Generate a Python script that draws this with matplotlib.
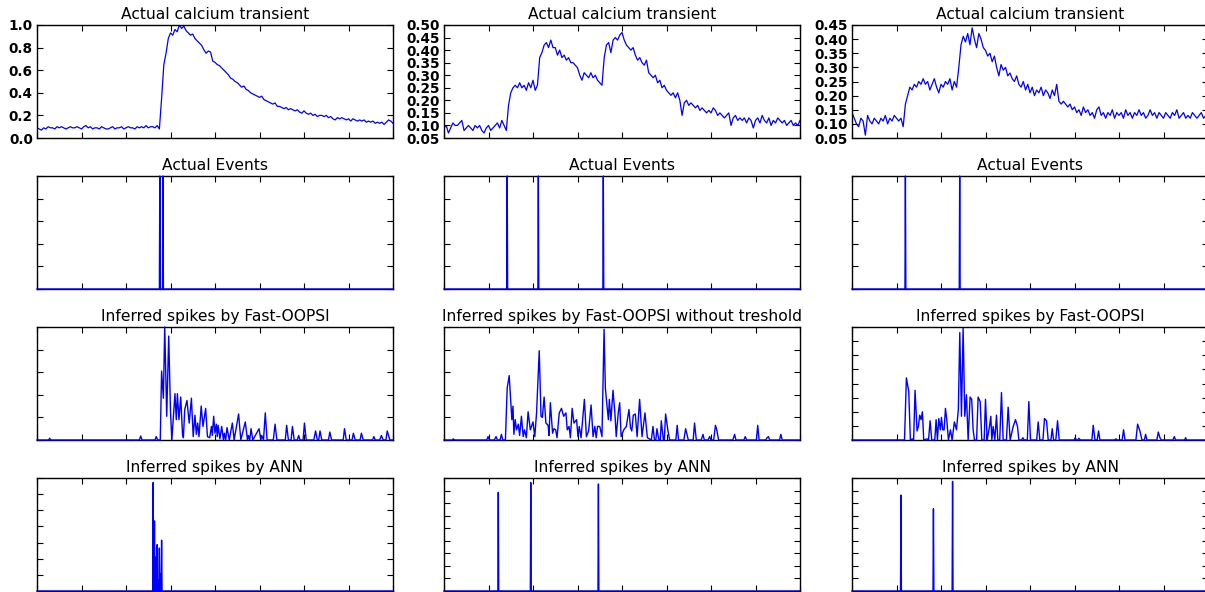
import numpy as np
import matplotlib
matplotlib.use("Agg")
import matplotlib.pyplot as plt

# --- data (time axis 0..800, 8 tick intervals) ---

# calcium traces, one sample every 5 time units
calcium_1 = [0.09, 0.08, 0.07, 0.09, 0.08, 0.10, 0.09, 0.09, 0.08, 0.10, 0.09, 0.10, 0.09, 0.08, 0.09, 0.10,
             0.09, 0.09, 0.10, 0.09, 0.08, 0.10, 0.11, 0.09, 0.10, 0.08, 0.09, 0.09, 0.08, 0.10, 0.09, 0.08,
             0.08, 0.09, 0.10, 0.08, 0.09, 0.09, 0.10, 0.08, 0.09, 0.10, 0.09, 0.09, 0.08, 0.10, 0.09, 0.10,
             0.09, 0.11, 0.09, 0.10, 0.10, 0.09, 0.11, 0.08,
             0.35, 0.65, 0.75, 0.88, 0.93, 0.91, 0.96, 0.94, 1.00, 0.97, 0.99, 0.95, 0.93, 0.91, 0.92, 0.88,
             0.86, 0.84, 0.82, 0.78, 0.75, 0.77, 0.76, 0.68, 0.67, 0.65, 0.64, 0.62, 0.60, 0.58, 0.56, 0.53,
             0.52, 0.50, 0.49, 0.47, 0.45, 0.46, 0.43, 0.42, 0.40, 0.39, 0.38, 0.37, 0.36, 0.37, 0.34, 0.33,
             0.32, 0.31, 0.30, 0.31, 0.28, 0.28, 0.27, 0.26, 0.27, 0.25, 0.26, 0.25, 0.24, 0.25, 0.23, 0.22,
             0.24, 0.22, 0.21, 0.22, 0.20, 0.21, 0.19, 0.20, 0.20, 0.19, 0.20, 0.18, 0.19, 0.17, 0.16, 0.18,
             0.17, 0.18, 0.17, 0.16, 0.17, 0.15, 0.17, 0.16, 0.15, 0.16, 0.15, 0.16, 0.14, 0.15, 0.14, 0.15,
             0.13, 0.14, 0.13, 0.14, 0.12, 0.14, 0.16, 0.15, 0.13]

calcium_2 = [0.09, 0.10, 0.07, 0.09, 0.11, 0.10, 0.10, 0.11, 0.12, 0.08, 0.09, 0.10, 0.09, 0.08, 0.10, 0.09,
             0.10, 0.08, 0.07, 0.09, 0.10, 0.08, 0.09, 0.10, 0.11, 0.09, 0.12, 0.10,
             0.08, 0.18, 0.23, 0.25, 0.26, 0.25, 0.27, 0.25, 0.26, 0.24, 0.27, 0.25, 0.28, 0.24, 0.26, 0.37,
             0.39, 0.42, 0.43, 0.41, 0.44, 0.41, 0.41, 0.38, 0.40, 0.37, 0.38, 0.36, 0.37, 0.35, 0.35, 0.34,
             0.33, 0.30, 0.28, 0.31, 0.30, 0.29, 0.31, 0.29, 0.30, 0.28, 0.27, 0.26, 0.37, 0.42, 0.43, 0.39,
             0.44, 0.45, 0.44, 0.46, 0.47, 0.44, 0.42, 0.41, 0.40, 0.41, 0.38, 0.36, 0.37, 0.35, 0.34, 0.36,
             0.31, 0.30, 0.29, 0.30, 0.27, 0.28, 0.25, 0.26, 0.24, 0.23, 0.22, 0.23, 0.21, 0.23, 0.20, 0.14,
             0.19, 0.20, 0.18, 0.19, 0.18, 0.17, 0.18, 0.16, 0.17, 0.16, 0.15, 0.16, 0.15, 0.17, 0.16, 0.14,
             0.15, 0.14, 0.13, 0.14, 0.15, 0.10, 0.13, 0.14, 0.12, 0.13, 0.12, 0.13, 0.11, 0.13, 0.12, 0.09,
             0.12, 0.13, 0.11, 0.14, 0.12, 0.11, 0.13, 0.10, 0.12, 0.11, 0.13, 0.12, 0.11, 0.12, 0.10, 0.11,
             0.12, 0.10, 0.11, 0.10, 0.12]

calcium_3 = [0.14, 0.12, 0.10, 0.09, 0.12, 0.11, 0.06, 0.13, 0.11, 0.10, 0.12, 0.11, 0.10, 0.12, 0.11, 0.13,
             0.10, 0.12, 0.11, 0.13, 0.12, 0.11, 0.12,
             0.09, 0.17, 0.20, 0.23, 0.22, 0.24, 0.23, 0.25, 0.24, 0.26, 0.24, 0.25, 0.22, 0.24, 0.26, 0.23,
             0.21, 0.24, 0.23, 0.25, 0.24, 0.26, 0.22, 0.25, 0.23, 0.30, 0.38, 0.41, 0.39, 0.42, 0.38, 0.44,
             0.40, 0.37, 0.42, 0.40, 0.37, 0.36, 0.34, 0.35, 0.32, 0.34, 0.30, 0.27, 0.31, 0.29, 0.30, 0.27,
             0.28, 0.26, 0.25, 0.27, 0.24, 0.23, 0.25, 0.22, 0.24, 0.21, 0.23, 0.20, 0.22, 0.21, 0.23, 0.20,
             0.22, 0.21, 0.19, 0.22, 0.20, 0.24, 0.18, 0.17, 0.18, 0.17, 0.16, 0.17, 0.15, 0.16, 0.14, 0.15,
             0.13, 0.16, 0.14, 0.15, 0.13, 0.14, 0.12, 0.15, 0.16, 0.13, 0.14, 0.12, 0.14, 0.13, 0.15, 0.12,
             0.14, 0.13, 0.14, 0.12, 0.15, 0.13, 0.14, 0.12, 0.14, 0.13, 0.15, 0.13, 0.14, 0.12, 0.13, 0.15,
             0.13, 0.14, 0.12, 0.14, 0.13, 0.12, 0.14, 0.13, 0.12, 0.14, 0.13, 0.15, 0.12, 0.13, 0.14, 0.12,
             0.13, 0.12, 0.14, 0.13, 0.12, 0.13, 0.14, 0.12, 0.13, 0.11]

# actual events (time, height)
events_t = [[275.6, 283.3], [142.2, 211.9, 358.0], [119.8, 242.0]]
events_h = [[1.0, 1.0], [1.0, 1.0, 1.0], [1.0, 1.0]]

# ANN output (time, height as fraction of axis)
ann_t = [[260.7, 262.5, 264.4, 266.5, 268.5, 270.5, 272.5, 275.0, 277.0, 279.5],
         [122.0, 194.8, 346.8],
         [110.0, 182.7, 226.3]]
ann_h = [[0.96, 0.05, 0.62, 0.30, 0.05, 0.41, 0.10, 0.38, 0.15, 0.45],
         [0.873, 0.96, 0.947],
         [0.849, 0.728, 0.97]]

# Fast-OOPSI traces as (time, value)
oopsi_1 = [(0, 0), (26, 0), (28.5, 0.015), (31, 0), (230, 0), (233, 0.035), (236, 0), (265, 0), (268, 0.03),
           (271, 0), (277, 0), (280, 0.61), (284, 0.37), (287, 1.0), (291.5, 0.21), (296, 0.92), (300, 0.25),
           (303, 0), (310, 0.41), (313, 0.18), (315.5, 0.41), (319, 0.18), (323, 0.38), (327, 0.05),
           (329, 0.02), (332, 0.27), (337, 0.35), (342, 0.15), (347, 0.37), (351, 0.03), (355, 0.22),
           (358, 0.05), (361, 0.15), (364, 0.03), (369, 0.30), (373, 0.12), (379, 0.28), (383, 0.03),
           (388, 0.02), (392, 0.12), (394, 0.04), (397, 0.21), (400, 0.06), (403, 0.14), (405, 0.03),
           (407, 0.13), (411, 0.01), (415, 0.12), (419, 0), (421, 0.06), (424, 0), (427, 0.11), (432, 0),
           (439, 0.15), (443, 0), (453, 0.23), (458, 0), (468, 0.16), (473, 0), (475, 0.04), (478, 0),
           (481, 0.10), (485, 0), (499, 0.10), (503, 0), (505, 0.04), (509, 0), (513, 0.24), (517, 0),
           (531, 0), (535, 0.14), (539, 0), (558, 0), (561, 0.13), (565, 0), (571, 0), (574, 0.12), (578, 0),
           (585, 0), (588, 0.04), (591, 0), (598, 0), (601, 0.15), (605, 0), (622, 0), (626, 0.08), (630, 0),
           (633, 0), (636, 0.08), (640, 0), (655, 0), (658, 0.07), (662, 0), (688, 0), (691, 0.10), (695, 0),
           (708, 0), (711, 0.06), (715, 0), (726, 0), (729, 0.06), (733, 0), (754, 0), (757, 0.03), (760, 0),
           (770, 0), (774, 0.04), (778, 0), (784, 0), (787, 0.08), (790, 0.04), (793, 0), (800, 0)]

oopsi_2 = [(0, 0), (18, 0), (21, 0.01), (24, 0), (96, 0), (99, 0.03), (102, 0), (113, 0), (117, 0.03), (120, 0),
           (126, 0), (129, 0.05), (132, 0), (138, 0), (142, 0.46), (146.5, 0.57), (149.5, 0.38), (152.5, 0.18),
           (155, 0.30), (157, 0.05), (160, 0.18), (163, 0.09), (167, 0.14), (170, 0.04), (174, 0.21),
           (178, 0.03), (181, 0.09), (185, 0.02), (189, 0.25), (194, 0.09), (200, 0.16), (204, 0.03),
           (208, 0.24), (214, 0.79), (218, 0.21), (221, 0.20), (225, 0.38), (229, 0.15), (234, 0.13),
           (236, 0.04), (239, 0.33), (244, 0.06), (247, 0.10), (251, 0.09), (254, 0.02), (259, 0.24),
           (264, 0.28), (269, 0.21), (274, 0.24), (277, 0.09), (281, 0.12), (284, 0.02), (288, 0.28),
           (292, 0.15), (298, 0.18), (301, 0.03), (304, 0.12), (308, 0.02), (315.5, 0.36), (320, 0.03),
           (325, 0.08), (330.5, 0.31), (335, 0.03), (339, 0.12), (342, 0.02), (345, 0.12), (350, 0.12),
           (355, 0.03), (359.7, 0.98), (362.6, 0.46), (365.6, 0.33), (369.4, 0.18), (371.6, 0.36),
           (375, 0.17), (379.8, 0.44), (384, 0.24), (387, 0.03), (391.8, 0.25), (394.8, 0.33), (398, 0.03),
           (404, 0.09), (409.7, 0.12), (415.7, 0.27), (419, 0.11), (422, 0.08), (425.4, 0.22), (429.9, 0.23),
           (434, 0.03), (439.6, 0.36), (445, 0.03), (451.6, 0.24), (457, 0.02), (466, 0), (469.6, 0.12),
           (473, 0), (476, 0), (478.5, 0.10), (483, 0), (486, 0), (488.3, 0.17), (493, 0), (495, 0),
           (498, 0.23), (503, 0.09), (507, 0), (521, 0), (524, 0.13), (527, 0), (539, 0), (543, 0.10),
           (549, 0), (560, 0), (563, 0.15), (567, 0), (578, 0), (582, 0.05), (585, 0), (593, 0), (597, 0.03),
           (600, 0), (606, 0), (610, 0.13), (613, 0.09), (617, 0), (649, 0), (653, 0.05), (656, 0), (674, 0),
           (677, 0.03), (680, 0), (702, 0), (705, 0.13), (708, 0), (723, 0), (726, 0.02), (729, 0.03),
           (732, 0), (754, 0), (757, 0.05), (760, 0), (800, 0)]

oopsi_3 = [(0, 0), (118, 0), (122.2, 0.55), (127.5, 0.43), (131.2, 0), (135.7, 0.01), (138.5, 0), (141.7, 0.44),
           (146.2, 0.08), (149.2, 0.12), (152.2, 0.22), (155.2, 0.18), (158.2, 0.25), (161.2, 0), (168.7, 0.01),
           (172, 0), (175.5, 0.17), (179.2, 0), (186, 0), (189, 0.18), (192, 0), (195, 0.19), (198.7, 0.09),
           (201, 0.20), (204, 0.09), (207, 0.09), (210, 0.28), (213, 0.18), (216.7, 0), (221.2, 0.09),
           (225, 0), (230, 0.16), (234.7, 0.09), (239, 0.27), (242.2, 0.95), (246, 0.21), (249.7, 0.99),
           (253.4, 0.21), (257.2, 0.40), (261, 0), (265.4, 0.38), (269, 0.36), (272.2, 0.09), (275.2, 0),
           (280, 0), (283.4, 0.38), (288, 0.34), (291.7, 0), (297, 0), (300, 0.36), (303.7, 0), (309, 0.12),
           (311.9, 0.21), (314.2, 0), (317.2, 0.12), (320.9, 0), (324.7, 0.22), (327.7, 0), (332, 0),
           (335.9, 0.42), (339.7, 0), (347, 0), (350.9, 0.29), (355.4, 0), (362.2, 0.12), (367.4, 0.18),
           (371.9, 0.12), (374.9, 0), (381, 0), (383.9, 0.02), (387, 0), (394, 0), (397.4, 0.34), (401.1, 0),
           (415, 0), (418.4, 0.16), (422.1, 0), (429, 0), (432.6, 0.19), (437.1, 0.17), (440.9, 0), (447, 0),
           (449.9, 0.10), (452.9, 0), (458, 0), (461.9, 0.17), (465.6, 0), (499, 0), (501.6, 0.02),
           (504, 0), (507, 0), (509.9, 0.015), (513, 0), (539, 0), (542.1, 0.13), (545.9, 0), (551, 0),
           (554.1, 0.08), (557.1, 0), (590, 0), (593, 0.01), (596, 0), (607, 0), (610.3, 0.09), (613.3, 0),
           (638, 0), (641.8, 0.14), (647, 0.08), (651.6, 0), (657, 0), (659.8, 0.05), (662.8, 0), (685, 0),
           (688.3, 0.07), (692, 0.02), (695, 0), (721, 0), (724.3, 0.03), (727, 0), (747, 0), (749.8, 0.02),
           (752, 0), (800, 0)]

titles = ["Actual calcium transient", "Actual Events", "Inferred spikes by Fast-OOPSI", "Inferred spikes by ANN"]
oopsi_titles = ["Inferred spikes by Fast-OOPSI", "Inferred spikes by Fast-OOPSI without treshold",
                "Inferred spikes by Fast-OOPSI"]

calcium_ylim = [(0.0, 1.0), (0.05, 0.50), (0.05, 0.45)]
calcium_step = [0.2, 0.05, 0.05]
oopsi_nticks = [5, 5, 8]
ann_nticks = [7, 9, 9]

t_end = 800
ca_time = np.linspace(0, t_end, len(calcium_1))
grid = np.arange(0, t_end + 1, 1.0)


def spike_train(times, heights):
    y = np.zeros_like(grid)
    y[np.round(np.array(times)).astype(int)] = heights
    return y


W, H = 1205, 592
fig = plt.figure(figsize=(W / 100, H / 100), dpi=100, facecolor="white")

col_left = [37, 444, 852]
col_w = 356
row_top = [25, 176, 327, 478]
row_h = 113
blue = "#0000ff"
title_size = 11.2


def make_ax(r, c):
    ax = fig.add_axes([col_left[c] / W, 1 - (row_top[r] + row_h) / H, col_w / W, row_h / H])
    ax.set_xlim(0, t_end)
    ax.set_xticks(np.arange(0, t_end + 1, 100))
    ax.tick_params(direction="in", length=4, width=0.8, top=True, right=True,
                   labelbottom=False, pad=3.0)
    for s in ax.spines.values():
        s.set_linewidth(1.0)
        s.set_color("black")
    return ax


calcium = [calcium_1, calcium_2, calcium_3]
oopsi = [oopsi_1, oopsi_2, oopsi_3]

for c in range(3):
    # row 1: calcium
    ax = make_ax(0, c)
    ax.plot(ca_time, calcium[c], color=blue, lw=0.9)
    lo, hi = calcium_ylim[c]
    ax.set_ylim(lo, hi)
    ax.set_yticks(np.arange(lo, hi + 1e-6, calcium_step[c]))
    ax.yaxis.set_major_formatter(matplotlib.ticker.FormatStrFormatter("%.1f" if c == 0 else "%.2f"))
    for lab in ax.get_yticklabels():
        lab.set_fontweight("bold")
        lab.set_fontsize(9.8)
    ax.set_title(titles[0], fontsize=title_size, pad=4)

    # row 2: events
    ax = make_ax(1, c)
    ax.plot(grid, spike_train(events_t[c], events_h[c]), color=blue, lw=1.0, clip_on=False, zorder=3)
    ax.set_ylim(0, 1)
    ax.set_yticks(np.linspace(0, 1, 6))
    ax.tick_params(labelleft=False)
    ax.set_title(titles[1], fontsize=title_size, pad=4)

    # row 3: fast-oopsi
    ax = make_ax(2, c)
    t, v = zip(*oopsi[c])
    ax.plot(t, v, color=blue, lw=1.0, clip_on=False, zorder=3)
    ax.set_ylim(0, 1)
    ax.set_yticks(np.linspace(0, 1, oopsi_nticks[c] + 1))
    ax.tick_params(labelleft=False)
    ax.set_title(oopsi_titles[c], fontsize=title_size, pad=4)

    # row 4: ANN
    ax = make_ax(3, c)
    ax.plot(grid, spike_train(ann_t[c], ann_h[c]), color=blue, lw=1.0, clip_on=False, zorder=3)
    ax.set_ylim(0, 1)
    ax.set_yticks(np.linspace(0, 1, ann_nticks[c] + 1))
    ax.tick_params(labelleft=False)
    ax.set_title(titles[3], fontsize=title_size, pad=4)

fig.savefig("out.png", dpi=100, facecolor="white")
